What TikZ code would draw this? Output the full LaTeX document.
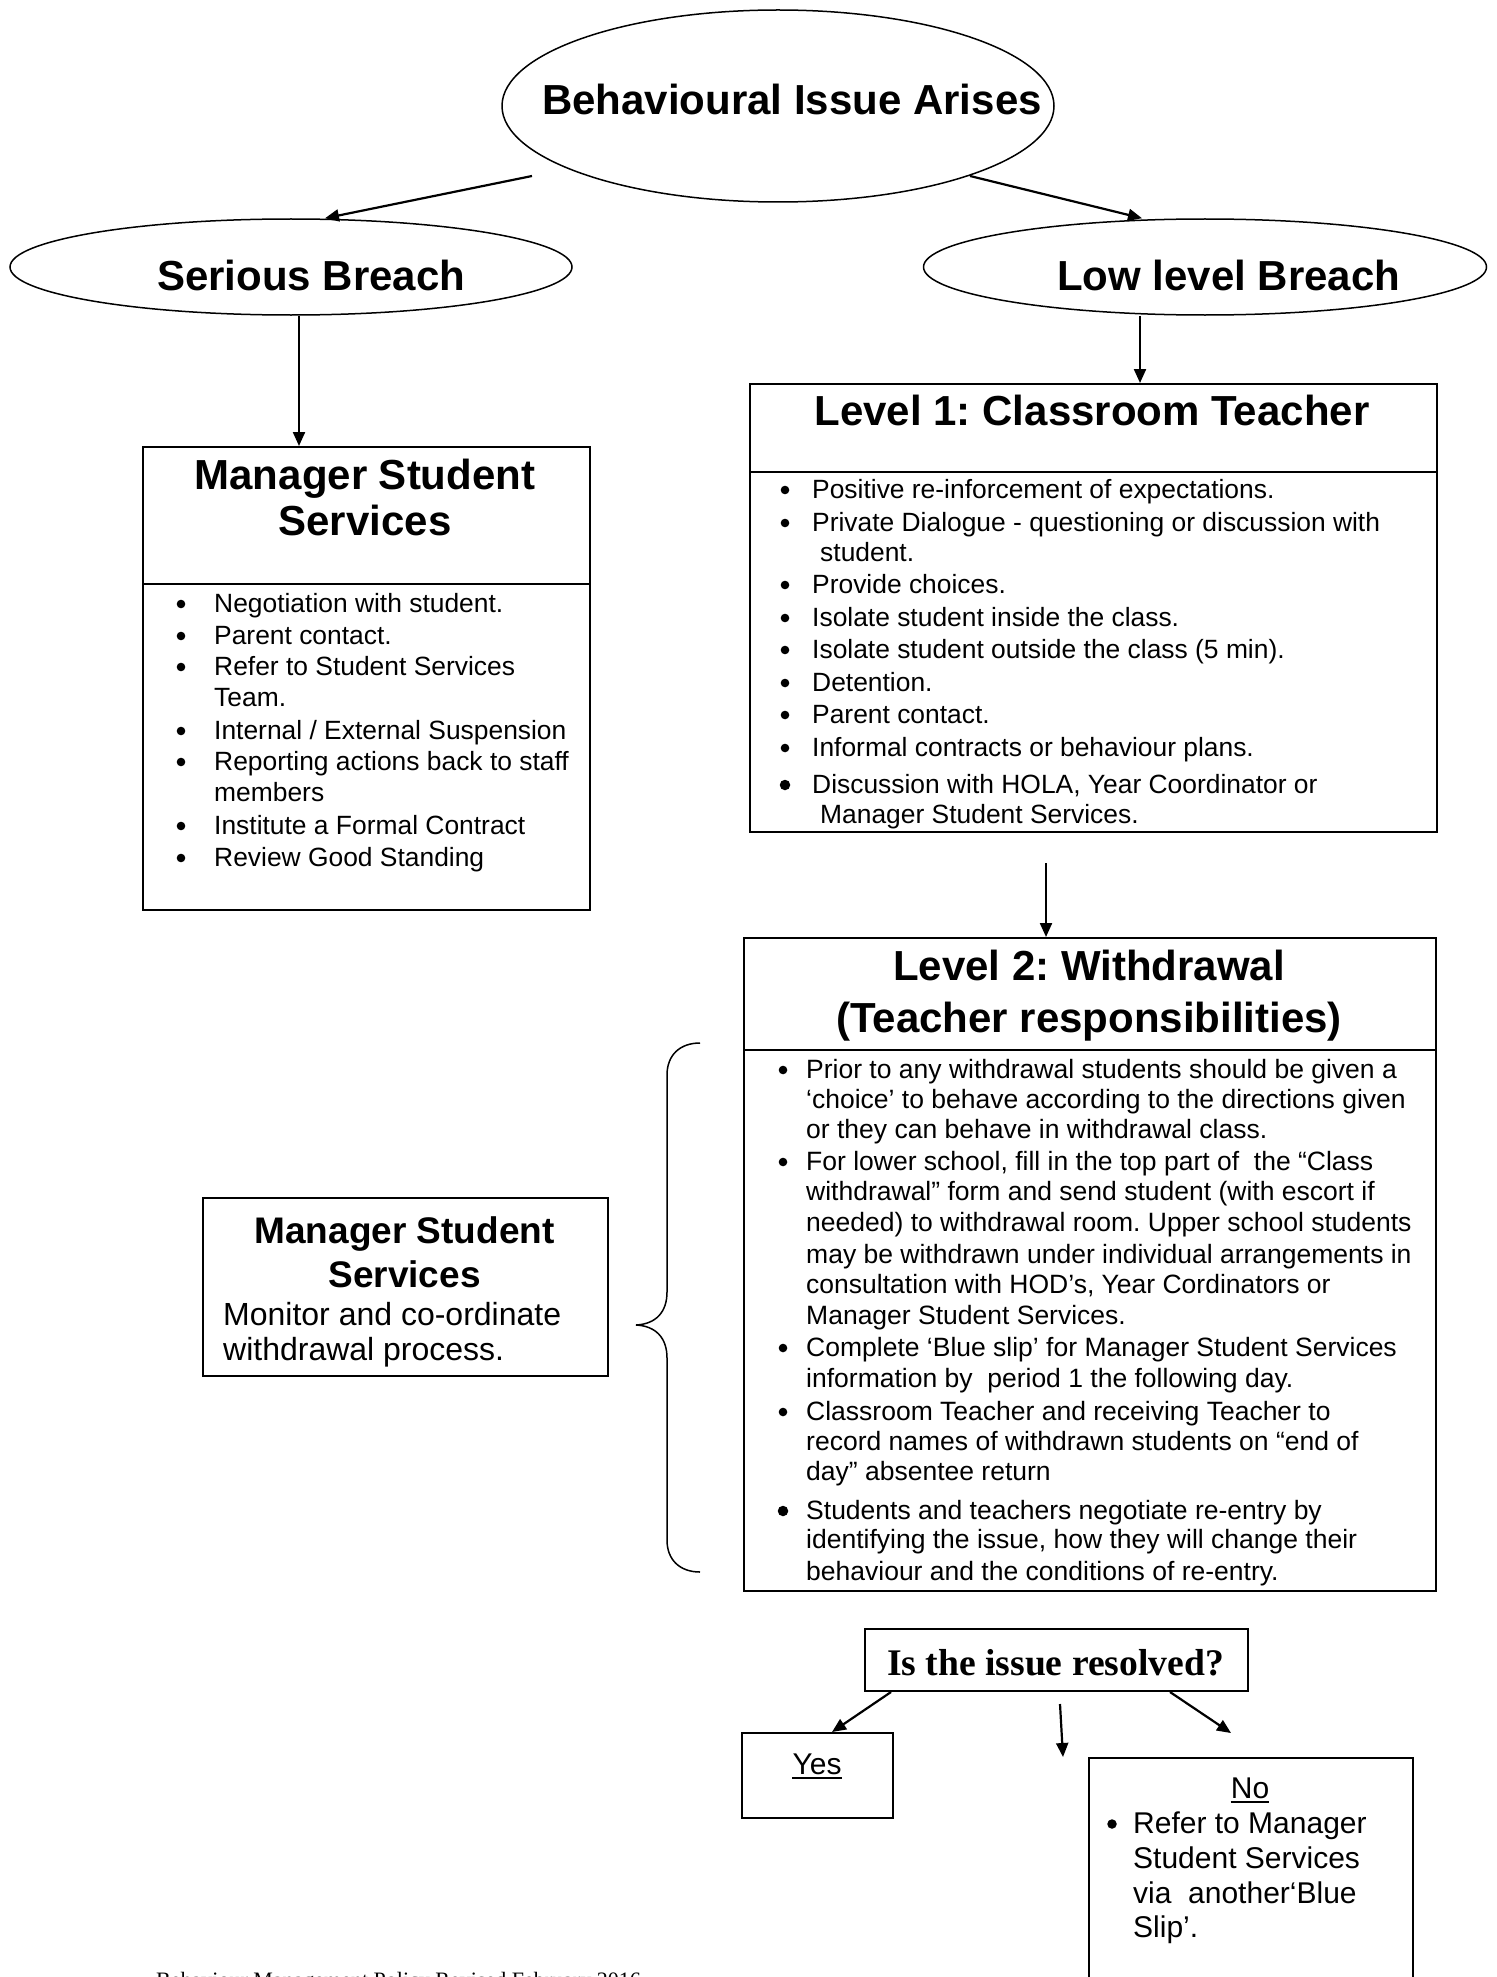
\documentclass[tikz,border=0pt]{standalone}
\usepackage{fontspec}
\setmainfont{Liberation Sans}
\newfontfamily\serifface{Liberation Serif}
\frenchspacing
\usetikzlibrary{arrows.meta,shapes.geometric}
\newcommand\LN[4]{\node[txt] (#1) at (#2,#3) {#4};}
\newcommand\BL[3]{\node[bul] (#1) at (#2,#3-8) {};}
\newcommand\BB[3]{\node[bul, minimum size=10.5pt] (#1) at (#2,#3-8) {};}
\begin{document}
\begin{tikzpicture}[x=1pt,y=-1pt,
  box/.style={draw, line width=2pt, rectangle, inner sep=0pt, anchor=north west},
  ell/.style={draw, line width=1.5pt, ellipse, inner sep=0pt},
  arr/.style={line width=2.2pt, -{Triangle[length=14pt,width=12pt]}},
  txt/.style={inner sep=0pt, anchor=base west},
  bul/.style={circle, fill=black, inner sep=0pt, minimum size=8.6pt},
  ttl/.style={inner sep=0pt, anchor=base, font=\bfseries\fontsize{42}{46}\selectfont},
  ul/.style={line width=2.5pt}]
\useasboundingbox (0,0) rectangle (1496,1977);
\fill[white] (0,0) rectangle (1496,1977);

% ---------- ellipses ----------
\node[ell, minimum width=552pt, minimum height=192pt] (top) at (778,106) {};
\node[ell, minimum width=562pt, minimum height=96pt] (serious) at (291,267) {};
\node[ell, minimum width=563pt, minimum height=96pt] (low) at (1205,267) {};
\node[ttl, anchor=base west] (toptxt) at (542,115) {Behavioural Issue Arises};
\node[ttl, anchor=base west] (sertxt) at (157,290) {Serious Breach};
\node[ttl, anchor=base west] (lowtxt) at (1057,290) {Low level Breach};

% ---------- boxes ----------
\node[box, minimum width=447pt, minimum height=463pt] (mss) at (142,446) {};
\node[box, minimum width=687pt, minimum height=448pt] (l1) at (749,383) {};
\node[box, minimum width=692pt, minimum height=653pt] (l2) at (743,937) {};
\node[box, minimum width=405pt, minimum height=178pt] (mid) at (202,1197) {};
\node[box, minimum width=383pt, minimum height=62pt] (dec) at (864,1628) {};
\node[box, minimum width=151pt, minimum height=85pt] (yes) at (741,1732) {};
\node[box, minimum width=324pt, minimum height=300pt] (no) at (1088,1757) {};

\draw[line width=2pt] ([yshift=-138pt]mss.north west) -- ([yshift=-138pt]mss.north east);
\draw[line width=2pt] ([yshift=-89pt]l1.north west) -- ([yshift=-89pt]l1.north east);
\draw[line width=2pt] ([yshift=-113pt]l2.north west) -- ([yshift=-113pt]l2.north east);

% ---------- arrows ----------
\coordinate (a1) at (532,176);
\coordinate (a2) at (970,176);
\draw[arr] (a1) -- ([xshift=34pt]serious.north);
\draw[arr] (a2) -- ([xshift=-63pt]low.north);
\coordinate (s1) at ([xshift=8pt]serious.south);
\draw[arr] (s1) -- (s1 |- mss.north);
\coordinate (s2) at ([xshift=-65pt]low.south);
\draw[arr] (s2) -- (s2 |- l1.north);
\coordinate (s3) at (1046,863);
\draw[arr] (s3) -- (s3 |- l2.north);
\coordinate (s4) at ([xshift=27pt]dec.south west);
\coordinate (e4) at ([xshift=91pt]yes.north west);
\draw[arr] (s4) -- (e4);
\coordinate (m1) at (1060,1704);
\coordinate (m2) at (1063,1757);
\draw[arr] (m1) -- (m2);
\coordinate (s5) at ([xshift=-79pt]dec.south east);
\coordinate (e5) at (1231,1733);
\draw[arr] (s5) -- (e5);

% ---------- brace ----------
\draw[line width=1.5pt] (700,1043) .. controls (680,1043) and (667,1055) .. (667,1075)
  -- (667,1292) .. controls (667,1312) and (656,1324) .. (636,1325)
  .. controls (656,1326) and (667,1338) .. (667,1358)
  -- (667,1540) .. controls (667,1560) and (680,1572) .. (700,1572);

% ---------- Manager Student Services (left) ----------
\node[ttl] (mssT1) at (365,489) {Manager Student};
\node[ttl] (mssT2) at (365,535) {Services};
\begin{scope}[font=\fontsize{26.4}{30}\selectfont]
\BL{mb1}{181}{612}\LN{mt1}{214}{612}{Negotiation with student.}
\BL{mb2}{181}{644}\LN{mt2}{214}{644}{Parent contact.}
\BL{mb3}{181}{675}\LN{mt3}{214}{675}{Refer to Student Services}
\LN{mt4}{214}{706}{Team.}
\BL{mb5}{181}{739}\LN{mt5}{214}{739}{Internal / External Suspension}
\BL{mb6}{181}{770}\LN{mt6}{214}{770}{Reporting actions back to staff}
\LN{mt7}{214}{801}{members}
\BL{mb8}{181}{834}\LN{mt8}{214}{834}{Institute a Formal Contract}
\BL{mb9}{181}{866}\LN{mt9}{214}{866}{Review Good Standing}
\end{scope}

% ---------- Level 1 ----------
\node[ttl] (l1T) at (1092,425) {Level 1: Classroom Teacher};
\begin{scope}[font=\fontsize{26.4}{30}\selectfont]
\BL{ab1}{785}{498}\LN{at1}{812}{498}{Positive re-inforcement of expectations.}
\BL{ab2}{785}{531}\LN{at2}{812}{531}{Private Dialogue - questioning or discussion with}
\LN{at3}{820}{561}{student.}
\BL{ab4}{785}{593}\LN{at4}{812}{593}{Provide choices.}
\BL{ab5}{785}{626}\LN{at5}{812}{626}{Isolate student inside the class.}
\BL{ab6}{785}{658}\LN{at6}{812}{658}{Isolate student outside the class (5 min).}
\BL{ab7}{785}{691}\LN{at7}{812}{691}{Detention.}
\BL{ab8}{785}{723}\LN{at8}{812}{723}{Parent contact.}
\BL{ab9}{785}{756}\LN{at9}{812}{756}{Informal contracts or behaviour plans.}
\BB{ab10}{785}{793}\LN{at10}{812}{793}{Discussion with HOLA, Year Coordinator or}
\LN{at11}{820}{823}{Manager Student Services.}
\end{scope}

% ---------- Level 2 ----------
\node[ttl] (l2T1) at (1089,980) {Level 2: Withdrawal};
\node[ttl] (l2T2) at (1089,1032) {(Teacher responsibilities)};
\begin{scope}[font=\fontsize{26.5}{30}\selectfont]
\BL{bb1}{783}{1078}\LN{bt1}{806}{1078}{Prior to any withdrawal students should be given a}
\LN{bt2}{806}{1108}{‘choice’ to behave according to the directions given}
\LN{bt3}{806}{1138}{or they can behave in withdrawal class.}
\BL{bb4}{783}{1170}\LN{bt4}{806}{1170}{For lower school, fill in the top part of\ \ the “Class}
\LN{bt5}{806}{1200}{withdrawal” form and send student (with escort if}
\LN{bt6}{806}{1231}{needed) to withdrawal room. Upper school students}
\LN{bt7}{806}{1263}{may be withdrawn under individual arrangements in}
\LN{bt8}{806}{1293}{consultation with HOD’s, Year Cordinators or}
\LN{bt9}{806}{1324}{Manager Student Services.}
\BL{bb10}{783}{1356}\LN{bt10}{806}{1356}{Complete ‘Blue slip’ for Manager Student Services}
\LN{bt11}{806}{1387}{information by\ \ period 1 the following day.}
\BL{bb12}{783}{1420}\LN{bt12}{806}{1420}{Classroom Teacher and receiving Teacher to}
\LN{bt13}{806}{1450}{record names of withdrawn students on “end of}
\LN{bt14}{806}{1480}{day” absentee return}
\BB{bb15}{783}{1519}\LN{bt15}{806}{1519}{Students and teachers negotiate re-entry by}
\LN{bt16}{806}{1548}{identifying the issue, how they will change their}
\LN{bt17}{806}{1580}{behaviour and the conditions of re-entry.}
\end{scope}

% ---------- Manager Student Services (middle) ----------
\node[ttl, font=\bfseries\fontsize{37}{40}\selectfont] (midT1) at (404.5,1243) {Manager Student};
\node[ttl, font=\bfseries\fontsize{37}{40}\selectfont] (midT2) at (404.5,1287) {Services};
\begin{scope}[font=\fontsize{32}{36}\selectfont]
\LN{midL1}{223}{1325}{Monitor and co-ordinate}
\begin{scope}
\clip (0,0) rectangle (1496,1366);
\LN{midL2}{223}{1360}{withdrawal process.}
\end{scope}
\end{scope}

% ---------- decision ----------
\node[inner sep=0pt, anchor=base, font=\serifface\bfseries\fontsize{37.6}{40}\selectfont] (decT) at (1055.5,1675) {Is the issue resolved?};
\begin{scope}[font=\fontsize{30}{34}\selectfont]
\node[inner sep=0pt, anchor=base] (yesT) at (817,1774) {Yes};
\draw[ul] ([yshift=-4pt]yesT.base west) -- ([yshift=-4pt]yesT.base east);
\node[inner sep=0pt, anchor=base] (noT) at (1250,1798) {No};
\draw[ul] ([yshift=-4pt]noT.base west) -- ([yshift=-4pt]noT.base east);
\node[bul, minimum size=9.5pt] (nb1) at (1112,1824) {};
\LN{nt1}{1133}{1833}{Refer to Manager}
\LN{nt2}{1133}{1868}{Student Services}
\LN{nt3}{1133}{1903}{via\ \ another‘Blue}
\LN{nt4}{1133}{1937}{Slip’.}
\end{scope}

% ---------- footer ----------
\node[inner sep=0pt, anchor=base west, font=\serifface\fontsize{22}{24}\selectfont] (foot) at (156,1987) {Behaviour Management Policy Revised February 2016};
\end{tikzpicture}
\end{document}
